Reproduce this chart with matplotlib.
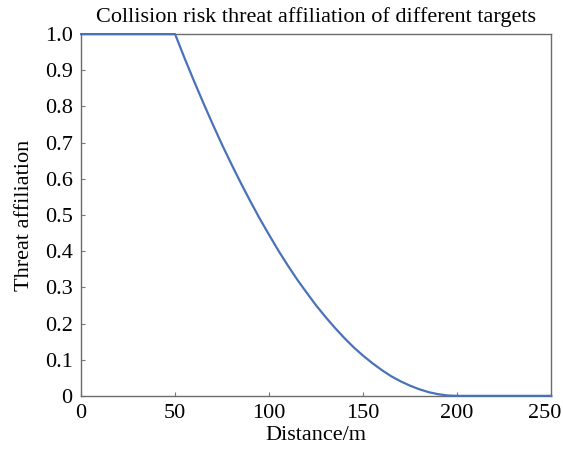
import matplotlib
matplotlib.use("Agg")
from matplotlib import pyplot as plt
from matplotlib.transforms import ScaledTranslation

# distance in metres and threat affiliation
distance = [0, 50, 55, 60, 65, 70, 75, 80, 85, 90, 95, 100, 105, 110, 115,
            120, 125, 130, 135, 140, 145, 150, 155, 160, 165, 170, 175, 180,
            185, 190, 195, 200, 250]
threat = [1.0, 1.0, 0.934, 0.871, 0.81, 0.751, 0.694, 0.64, 0.588, 0.538,
          0.49, 0.445, 0.401, 0.36, 0.321, 0.285, 0.25, 0.218, 0.188, 0.16,
          0.134, 0.111, 0.09, 0.071, 0.054, 0.04, 0.028, 0.018, 0.01, 0.0045,
          0.001, 0.0, 0.0]

plt.rcParams["font.family"] = "Liberation Serif"

fig = plt.figure(figsize=(5.63, 4.55), dpi=100)
ax = fig.add_axes([0.144, 0.130, 0.835, 0.795])
ax.plot(distance, threat, color="#4a72b8", linewidth=1.6, clip_on=False, zorder=3)

ax.set_xlim(0, 250)
ax.set_ylim(0, 1.0)
ax.set_xticks([0, 50, 100, 150, 200, 250])
ax.set_yticks([i / 10 for i in range(11)])
ax.set_yticklabels(["0"] + ["%.1f" % (i / 10) for i in range(1, 11)])
ax.tick_params(direction="in", length=3, width=0.8, color="#777777",
               labelsize=16, pad=6)
for s in ax.spines.values():
    s.set_color("#6b6b6b")
    s.set_linewidth(1.0)

# keep the last x label inside the figure
last = ax.get_xticklabels()[-1]
last.set_transform(last.get_transform() + ScaledTranslation(-0.06, 0, fig.dpi_scale_trans))

ax.set_xlabel("Distance/m", fontsize=16, labelpad=2)
ax.set_ylabel("Threat affiliation", fontsize=16, labelpad=8)
ax.set_title("Collision risk threat affiliation of different targets", fontsize=16, pad=9)

fig.savefig("out.png", dpi=100)
